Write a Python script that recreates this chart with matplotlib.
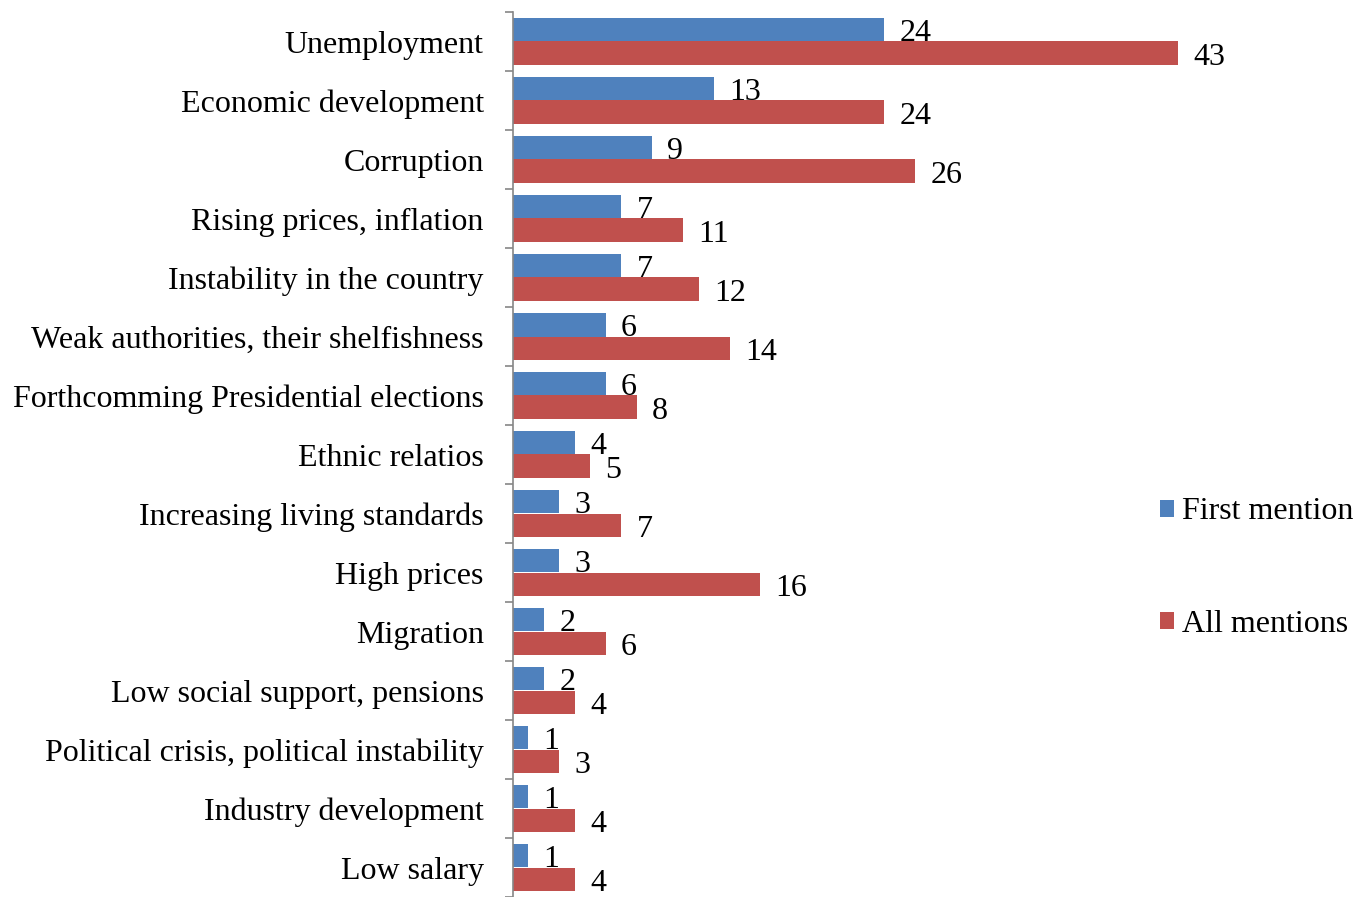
import numpy as np
import matplotlib.pyplot as plt

plt.rcParams['font.family'] = ['Liberation Serif', 'DejaVu Serif']

categories = ['Unemployment', 'Economic development', 'Corruption',
              'Rising prices, inflation', 'Instability in the country',
              'Weak authorities, their shelfishness',
              'Forthcomming Presidential elections', 'Ethnic relatios',
              'Increasing living standards', 'High prices', 'Migration',
              'Low social support, pensions',
              'Political crisis, political instability',
              'Industry development', 'Low salary']
first_mention = [24, 13, 9, 7, 7, 6, 6, 4, 3, 3, 2, 2, 1, 1, 1]
all_mentions = [43, 24, 26, 11, 12, 14, 8, 5, 7, 16, 6, 4, 3, 4, 4]

blue = '#4F81BD'
red = '#C0504D'
fs = 23

fig = plt.figure(figsize=(13.59, 8.97), dpi=100)
ax = fig.add_axes([513 / 1359, 0.0, 696 / 1359, 1 - 12 / 897])

y = np.arange(len(categories))
h = 0.405
b1 = ax.barh(y - h / 2, first_mention, height=h, color=blue, label='First mention')
b2 = ax.barh(y + h / 2, all_mentions, height=h, color=red, label='All mentions')

for bars, vals in ((b1, first_mention), (b2, all_mentions)):
    for bar, v in zip(bars, vals):
        ax.annotate(str(v), (bar.get_width(), bar.get_y() + bar.get_height() / 2),
                    xytext=(11, -3), textcoords='offset points',
                    ha='left', va='center', fontsize=fs)

ax.set_xlim(0, 45)
ax.set_ylim(len(categories) - 0.5, -0.5)
ax.set_yticks(y)
ax.set_yticklabels(categories, fontsize=fs)
ax.set_yticks(np.arange(len(categories) + 1) - 0.5, minor=True)
ax.tick_params(axis='y', which='major', length=0, pad=21)
ax.tick_params(axis='y', which='minor', length=6, width=1.2, color='#868686', direction='out')
ax.set_xticks([])
for s in ['top', 'right', 'bottom']:
    ax.spines[s].set_visible(False)
ax.spines['left'].set_color('#868686')
ax.spines['left'].set_linewidth(1.2)

fig.legend(handles=[b1, b2], loc='center left', bbox_to_anchor=(1160 / 1359, 1 - 568 / 897),
           frameon=False, fontsize=fs, handlelength=0.45, handleheight=0.45,
           handletextpad=0.25, labelspacing=2.6, borderaxespad=0, borderpad=0)

fig.savefig('out.png', dpi=100)
